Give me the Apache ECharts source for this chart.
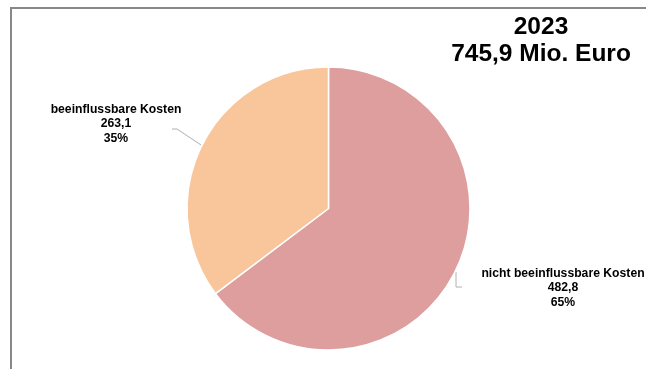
<!DOCTYPE html>
<html>
<head>
<meta charset="utf-8">
<script src="https://cdn.jsdelivr.net/npm/echarts@6/dist/echarts.min.js"></script>
<style>
html,body{margin:0;padding:0;background:#fff;}
#c{width:646px;height:369px;}
</style>
</head>
<body>
<div id="c"></div>
<script>
const categories = ['nicht beeinflussbare Kosten', 'beeinflussbare Kosten'];
const values = [482.8, 263.1];
const colors = ['#DE9E9E', '#F9C69B'];
const titleLines = ['2023', '745,9 Mio. Euro'];

const total = values.reduce((a, b) => a + b, 0);
const fmt = v => v.toFixed(1).replace('.', ',');

const chart = echarts.init(document.getElementById('c'));
chart.setOption({
  backgroundColor: '#fff',
  animation: false,
  title: {
    text: titleLines.join('\n'),
    left: 536,
    top: 9,
    textAlign: 'center',
    textStyle: {
      fontFamily: 'Liberation Sans',
      fontWeight: 'bold',
      fontSize: 24.5,
      lineHeight: 27,
      color: '#000'
    }
  },
  graphic: [
    { type: 'line', shape: { x1: 10, y1: 8, x2: 646, y2: 8 }, style: { stroke: '#888', lineWidth: 2 } },
    { type: 'line', shape: { x1: 11, y1: 7, x2: 11, y2: 369 }, style: { stroke: '#888', lineWidth: 2 } }
  ],
  series: [{
    type: 'pie',
    center: [328.5, 208.5],
    radius: [0, 141.5],
    startAngle: 90,
    clockwise: true,
    itemStyle: { borderColor: '#fff', borderWidth: 1.5 },
    data: categories.map((n, i) => ({ name: n, value: values[i], itemStyle: { color: colors[i] } })),
    label: {
      show: true,
      formatter: p => p.name + '\n' + fmt(p.value) + '\n' + Math.round(p.value / total * 100) + '%',
      fontFamily: 'Liberation Sans',
      fontWeight: 'bold',
      fontSize: 12.2,
      lineHeight: 14.5,
      color: '#000',
      align: 'center',
      overflow: 'none'
    },
    labelLine: { show: true, lineStyle: { color: '#b0b0b0', width: 1 } },
    labelLayout: p => p.dataIndex === 0
      ? { x: 563, y: 288, align: 'center', verticalAlign: 'middle',
          labelLinePoints: [[456, 272], [456, 287], [462, 287]] }
      : { x: 116, y: 124, align: 'center', verticalAlign: 'middle',
          labelLinePoints: [[201, 145], [177, 129], [172, 129]] }
  }]
});
</script>
</body>
</html>
